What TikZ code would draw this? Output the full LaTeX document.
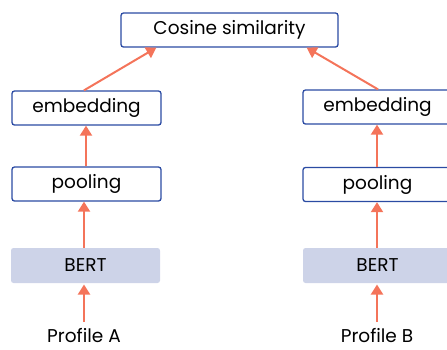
\documentclass[tikz,border=0pt]{standalone}
\usepackage{fontspec}
\setmainfont{Poppins}
\usetikzlibrary{arrows.meta}
\definecolor{boxblue}{HTML}{2B4BA3}
\definecolor{arr}{HTML}{F4745A}
\definecolor{bertfill}{HTML}{CDD3E8}
\begin{document}
\begin{tikzpicture}[x=1pt,y=-1pt,
  box/.style={draw=boxblue,line width=1.3pt,rounded corners=2.5pt,fill=white,minimum width=149pt,minimum height=34pt,inner sep=0pt,font=\fontsize{18.5}{22}\selectfont},
  bert/.style={fill=bertfill,rounded corners=2.5pt,minimum width=149pt,minimum height=35pt,inner sep=0pt,font=\fontsize{18.5}{22}\selectfont},
  lbl/.style={inner sep=0pt,text depth=0pt,font=\fontsize{18.5}{22}\selectfont},
  link/.style={draw=arr,line width=2pt,-{Triangle[length=10pt,width=12pt]}}]
\useasboundingbox (0,0) rectangle (447,349);
\clip (0,0) rectangle (447,349);
\node[box,minimum width=217pt] (cos) at (229.5,30) {Cosine similarity};
\node[box] (eA) at (86.5,108) {embedding};
\node[box] (pA) at (86.5,184) {pooling};
\node[bert] (bA) at (85.5,265.5) {BERT};
\node[lbl,anchor=base] (prA) at (84,342.5) {Profile A};
\node[box] (eB) at (377.5,107) {embedding};
\node[box] (pB) at (377.5,184.5) {pooling};
\node[bert] (bB) at (377.5,265.5) {BERT};
\node[lbl,anchor=base] (prB) at (377,342.5) {Profile B};
\coordinate (sA) at (84,322);
\coordinate (sB) at (377,322);
\draw[link] (sA) -- (84,284.5);
\draw[link] (sB) -- (377,284.5);
\draw[link] (bA.north -| 84,0) -- (pA.south -| 84,0);
\draw[link] (bB.north -| 377,0) -- (pB.south -| 377,0);
\draw[link] (pA.north -| 86,0) -- (eA.south -| 86,0);
\draw[link] (pB.north -| 377,0) -- (eB.south -| 377,0);
\draw[link] (eA.north -| 84,0) -- ([xshift=36pt]cos.south west);
\draw[link] (eB.north -| 378,0) -- ([xshift=-32pt]cos.south east);
\end{tikzpicture}
\end{document}
